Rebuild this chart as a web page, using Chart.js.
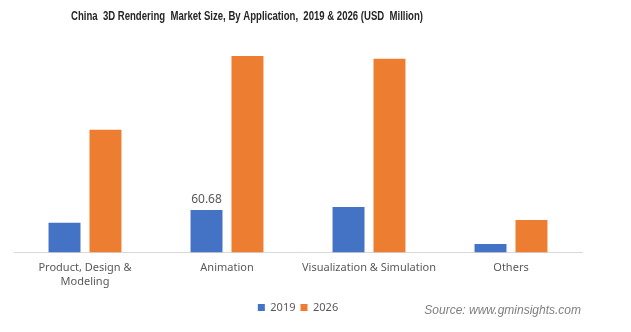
<!DOCTYPE html>
<html>
<head>
<meta charset="utf-8">
<script src="https://cdn.jsdelivr.net/npm/chart.js@4"></script>
<style>
  html, body { margin: 0; padding: 0; background: #fff; }
  #wrap { position: relative; width: 631px; height: 332px; }
</style>
</head>
<body>
<div id="wrap"><canvas id="marketChart" width="631" height="332"></canvas></div>
<script>
// chart data
const categories = [['Product, Design &', 'Modeling'], 'Animation', 'Visualization & Simulation', 'Others'];
const seriesNames = ['2019', '2026'];
const values2019 = [42.5, 60.68, 65.0, 12.4];
const values2026 = [175.0, 280.0, 276.0, 46.5];
const shownLabels = [[0, 1]]; // [dataset, index] pairs that carry a value label

const titleText = 'China  3D Rendering  Market Size, By Application,  2019 & 2026 (USD  Million)';
const sourceText = 'Source: www.gminsights.com';

// title, source and value labels
const extrasPlugin = {
    id: 'extras',
    afterDraw(chart) {
        const ctx = chart.ctx;
        ctx.save();
        // title, squeezed like a narrow font
        ctx.font = 'bold 12px "Liberation Sans", Arial, sans-serif';
        ctx.fillStyle = '#262626';
        ctx.textBaseline = 'middle';
        ctx.textAlign = 'left';
        const w = ctx.measureText(titleText).width;
        const target = 352;
        ctx.translate(71, 17);
        ctx.scale(target / w, 1);
        ctx.fillText(titleText, 0, 0);
        ctx.restore();

        ctx.save();
        ctx.font = 'italic 12px "Liberation Sans", Arial, sans-serif';
        ctx.fillStyle = '#7f7f7f';
        ctx.textAlign = 'right';
        ctx.textBaseline = 'middle';
        ctx.fillText(sourceText, 581, 311);

        // value labels
        ctx.font = '12px "Noto Sans", sans-serif';
        ctx.fillStyle = '#595959';
        ctx.textAlign = 'center';
        ctx.textBaseline = 'bottom';
        shownLabels.forEach(([d, i]) => {
            const bar = chart.getDatasetMeta(d).data[i];
            const v = chart.data.datasets[d].data[i];
            ctx.fillText(v.toFixed(2), bar.x, bar.y - 4);
        });
        ctx.restore();
    }
};

const ctx = document.getElementById('marketChart').getContext('2d');
new Chart(ctx, {
    type: 'bar',
    data: {
        labels: categories,
        datasets: [{
            label: seriesNames[0],
            data: values2019,
            backgroundColor: '#4472c4'
        }, {
            label: seriesNames[1],
            data: values2026,
            backgroundColor: '#ed7d31'
        }]
    },
    options: {
        responsive: false,
        animation: false,
        barPercentage: 0.78,
        categoryPercentage: 0.577,
        layout: { padding: { left: 14, right: 49, top: 42, bottom: 9 } },
        scales: {
            x: {
                grid: { display: false, drawTicks: false },
                border: { display: true, color: '#d9d9d9', width: 1 },
                ticks: {
                    color: '#595959',
                    font: { family: '"Noto Sans", sans-serif', size: 11 },
                    padding: 9,
                    maxRotation: 0,
                    autoSkip: false
                }
            },
            y: {
                display: false,
                min: 0,
                max: 300
            }
        },
        plugins: {
            legend: {
                position: 'bottom',
                labels: {
                    boxWidth: 7,
                    boxHeight: 7,
                    color: '#595959',
                    font: { family: '"Noto Sans", sans-serif', size: 11 },
                    padding: 5
                }
            },
            tooltip: { enabled: false }
        }
    },
    plugins: [extrasPlugin]
});
</script>
</body>
</html>
